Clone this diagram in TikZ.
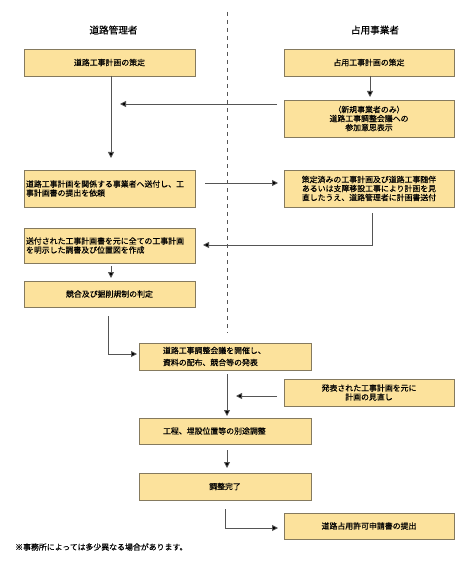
\documentclass[tikz,border=0pt]{standalone}
\usepackage{fontspec}
\setmainfont{Noto Sans CJK JP}[FakeBold=0.3]
\usetikzlibrary{arrows.meta}
\definecolor{boxfill}{HTML}{FCE29C}
\definecolor{boxline}{HTML}{857A5E}
\definecolor{conn}{HTML}{555555}
\begin{document}
\begin{tikzpicture}[x=1bp,y=-1bp,
  box/.style={draw=boxline,line width=0.9bp,fill=boxfill,inner ysep=0bp,
    font=\fontsize{7.9bp}{9bp}\selectfont,align=center},
  lbox/.style={box,text width=167bp,inner xsep=2bp,align=left,minimum height=#1},
  rbox/.style={box,minimum width=170bp,minimum height=#1},
  cbox/.style={box,minimum width=172bp,minimum height=#1},
  clbox/.style={box,text width=124bp,inner xsep=24bp,align=left,minimum height=#1},
  head/.style={font=\fontsize{9.6bp}{11bp}\selectfont,inner sep=0pt},
  note/.style={font=\fontsize{7.9bp}{9bp}\selectfont,inner sep=0pt,anchor=west},
  conn/.style={draw=conn,line width=0.8bp,-{Triangle[width=6bp,length=6bp,fill=black]}},
  plain/.style={draw=conn,line width=0.8bp},
]
\useasboundingbox (0,0) rectangle (470,572);
\fill[white] (0,0) rectangle (470,572);

% divider
\draw[plain,dash pattern=on 4bp off 4bp] (227,12) -- (227,333);

% headers
\node[head] (h1) at (113.5,30) {道路管理者};
\node[head] (h2) at (375,30) {占用事業者};

% boxes
\node[lbox=27bp,align=center] (l1) at (109.5,62.5) {道路工事計画の策定};
\node[rbox=27bp] (r1) at (369,62.5) {占用工事計画の策定};
\node[rbox=37bp] (r2) at (369,118.5) {（新規事業者のみ）\\道路工事調整会議への\\参加意思表示};
\node[lbox=37bp] (l2) at (109.5,188.5) {道路工事計画を関係する事業者へ送付し、工\\事計画書の提出を依頼\\[4bp]};
\node[rbox=37bp] (r3) at (369,188.5) {策定済みの工事計画及び道路工事随伴\\あるいは支障移設工事により計画を見\\直したうえ、道路管理者に計画書送付};
\node[lbox=35bp] (l3) at (109.5,245.5) {送付された工事計画書を元に全ての工事計画\\を明示した調書及び位置図を作成\\[4bp]};
\node[lbox=26bp,align=center] (l4) at (109.5,294) {競合及び掘削規制の判定};
\node[clbox=27bp] (c1) at (225,356.5) {道路工事調整会議を開催し、\\[3bp]資料の配布、競合等の発表};
\node[rbox=27bp] (r4) at (369,392.5) {発表された工事計画を元に\\計画の見直し};
\node[clbox=26bp] (c2) at (225,431) {工程、埋設位置等の別途調整};
\node[cbox=27bp] (c3) at (225,486.5) {調整完了};
\node[rbox=26bp] (r5) at (369,526) {道路占用許可申請書の提出};

\node[note] (fn) at (15,547) {※事務所によっては多少異なる場合があります。};

% connector coordinates
\coordinate (a1s) at (370,76);   \coordinate (a1e) at (370,97);
\coordinate (a2s) at (277,104);  \coordinate (a2e) at (120,104);
\coordinate (a3s) at (111,76);   \coordinate (a3e) at (111,158);
\coordinate (a4s) at (205,183);  \coordinate (a4e) at (278,183);
\coordinate (a5s) at (372,213);  \coordinate (a5m) at (372,245); \coordinate (a5e) at (203,245);
\coordinate (a6s) at (111,266);  \coordinate (a6e) at (111,278);
\coordinate (a7s) at (108,316);  \coordinate (a7m) at (108,354); \coordinate (a7e) at (137,354);
\coordinate (a8s) at (227,374);  \coordinate (a8e) at (227,416);
\coordinate (a9s) at (277,396);  \coordinate (a9e) at (236,396);
\coordinate (a10s) at (227,450); \coordinate (a10e) at (227,468);
\coordinate (a11s) at (225,509); \coordinate (a11m) at (225,528); \coordinate (a11e) at (278,528);

\draw[conn] (a1s) -- (a1e);
\draw[conn] (a2s) -- (a2e);
\draw[conn] (a3s) -- (a3e);
\draw[conn] (a4s) -- (a4e);
\draw[conn] (a5s) -- (a5m) -- (a5e);
\draw[conn] (a6s) -- (a6e);
\draw[conn] (a7s) -- (a7m) -- (a7e);
\draw[conn] (a8s) -- (a8e);
\draw[conn] (a9s) -- (a9e);
\draw[conn] (a10s) -- (a10e);
\draw[conn] (a11s) -- (a11m) -- (a11e);
\end{tikzpicture}
\end{document}
